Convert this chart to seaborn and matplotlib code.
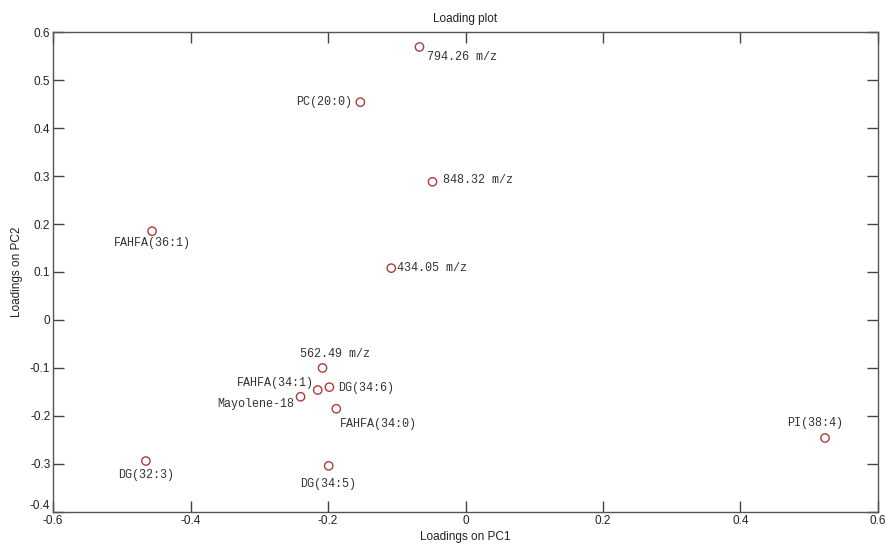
import matplotlib
matplotlib.use("Agg")
import matplotlib.pyplot as plt
import seaborn as sns
import pandas as pd

# loadings
names = ["794.26 m/z", "PC(20:0)", "848.32 m/z", "FAHFA(36:1)", "434.05 m/z",
         "562.49 m/z", "FAHFA(34:1)", "DG(34:6)", "Mayolene-18", "FAHFA(34:0)",
         "DG(34:5)", "DG(32:3)", "PI(38:4)"]
pc1 = [-0.067, -0.153, -0.048, -0.456, -0.108, -0.208, -0.215, -0.198, -0.240,
       -0.188, -0.199, -0.465, 0.523]
pc2 = [0.569, 0.454, 0.288, 0.185, 0.108, -0.100, -0.146, -0.140, -0.160,
       -0.185, -0.304, -0.294, -0.246]

df = pd.DataFrame({"name": names, "PC1": pc1, "PC2": pc2})

# label placement (pixel offset, alignment)
label_pos = {
    "794.26 m/z": (8, -10, "left"),
    "PC(20:0)": (-8, 0, "right"),
    "848.32 m/z": (10, 2, "left"),
    "FAHFA(36:1)": (0, -12, "center"),
    "434.05 m/z": (6, 0, "left"),
    "562.49 m/z": (12, 14, "center"),
    "FAHFA(34:1)": (-4, 7, "right"),
    "DG(34:6)": (9, -1, "left"),
    "Mayolene-18": (-6, -7, "right"),
    "FAHFA(34:0)": (4, -15, "left"),
    "DG(34:5)": (-1, -18, "center"),
    "DG(32:3)": (0, -14, "center"),
    "PI(38:4)": (-10, 15, "center"),
}

sns.set_style("white")
plt.rcParams["font.family"] = ["Liberation Sans", "DejaVu Sans"]

fig = plt.figure(figsize=(8.85, 5.44), dpi=100)
ax = fig.add_axes([0.060, 0.059, 0.932, 0.882])

sns.scatterplot(data=df, x="PC1", y="PC2", ax=ax, marker="o", s=36,
                facecolor="none", edgecolor="#b23a3a", linewidth=1.0)

for n, x, y in zip(names, pc1, pc2):
    dx, dy, ha = label_pos[n]
    ax.annotate(n, (x, y), xytext=(dx, dy), textcoords="offset pixels",
                ha=ha, va="center", fontsize=8.5, family="Liberation Mono",
                color="#333333")

ax.set_xlim(-0.6, 0.6)
ax.set_ylim(-0.4, 0.6)
ax.set_xticks([-0.6, -0.4, -0.2, 0, 0.2, 0.4, 0.6])
ax.set_xticklabels(["-0.6", "-0.4", "-0.2", "0", "0.2", "0.4", "0.6"])
ax.set_yticks([-0.4, -0.3, -0.2, -0.1, 0, 0.1, 0.2, 0.3, 0.4, 0.5, 0.6])
ax.set_yticklabels(["-0.4", "-0.3", "-0.2", "-0.1", "0", "0.1", "0.2",
                    "0.3", "0.4", "0.5", "0.6"])
ax.tick_params(direction="in", length=8, width=1, color="#444444",
               labelsize=8.5, labelcolor="#222222", top=True, right=True,
               bottom=True, left=True, pad=2)
# nudge the corner labels apart a little
ax.get_yticklabels()[0].set_va("bottom")
for sp in ax.spines.values():
    sp.set_color("#555555")
    sp.set_linewidth(1.0)

ax.set_title("Loading plot", fontsize=8.5, color="#222222", pad=7)
ax.set_xlabel("Loadings on PC1", fontsize=8.5, color="#222222", labelpad=3)
ax.set_ylabel("Loadings on PC2", fontsize=8.5, color="#222222", labelpad=5)

fig.savefig("out.png", dpi=100)
